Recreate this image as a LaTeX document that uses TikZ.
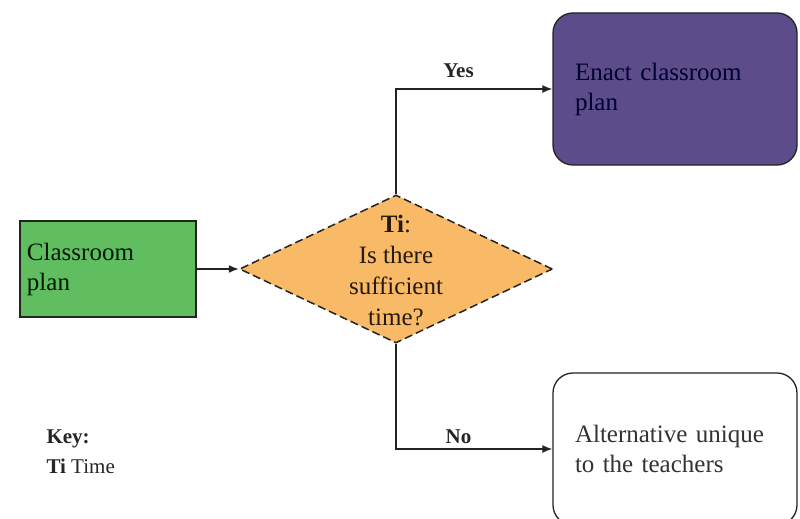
\documentclass[tikz,border=0pt]{standalone}
\usepackage{fontspec}
\setmainfont{Liberation Serif}
\usetikzlibrary{shapes.geometric,arrows.meta}
\definecolor{planGreen}{RGB}{96,190,96}
\definecolor{decOrange}{RGB}{248,186,102}
\definecolor{enactPurple}{RGB}{92,76,137}
\definecolor{edgeGray}{RGB}{35,35,35}
\tikzset{
  boxtext/.style={font=\fontsize{25}{30}\selectfont, align=left},
  labeltext/.style={font=\fontsize{21}{30}\selectfont\bfseries, text=black!85},
  flow/.style={draw=edgeGray, line width=1.4pt, -{Latex[length=10pt,width=8pt]}},
  plainbox/.style={draw=edgeGray, line width=1.3pt, inner xsep=7pt, boxtext},
  roundbox/.style={draw=edgeGray, line width=1.3pt, rounded corners=20pt, boxtext},
}
\begin{document}
\begin{tikzpicture}[x=1pt,y=-1pt]
  \clip (0,0) rectangle (800,519);
  \fill[white] (0,0) rectangle (800,519);

  % start box
  \node[plainbox, fill=planGreen, text=black!75!green!40!black,
        minimum width=176pt, minimum height=96pt, text width=162pt]
        (plan) at (108,269) {Classroom\\plan};

  % decision diamond
  \node[diamond, draw=edgeGray, dashed, dash pattern=on 8pt off 4pt,
        line width=1.5pt, fill=decOrange, minimum width=313pt,
        minimum height=148pt, inner sep=0pt] (ti) at (396,269) {};
  \node[font=\fontsize{25}{31}\selectfont, align=center, text=black!80!brown]
        (titext) at (396,271) {\textbf{Ti}:\\Is there\\sufficient\\time?};

  % outcome boxes
  \node[roundbox, fill=enactPurple, text=black!70!blue!60!black,
        minimum width=244pt, minimum height=152pt, text width=200pt]
        (enact) at (675,89) {Enact classroom\\plan};
  \node[roundbox, fill=white, text=black!80,
        minimum width=244pt, minimum height=152pt, text width=200pt]
        (alt) at (675,449) {Alternative unique\\to the teachers};

  % connectors
  \draw[flow] (plan.east) -- (ti.west);
  \draw[flow] (ti.north) |- node[labeltext, pos=0.7, above=7pt] (yes) {Yes} (enact.west);
  \draw[flow] (ti.south) |- node[labeltext, pos=0.7, above=1pt] (no) {No} (alt.west);

  % key
  \node[font=\fontsize{21}{30}\selectfont, align=left, anchor=west, text=black!85]
        (key) at (43,452) {\textbf{Key:}\\\textbf{Ti} Time};
\end{tikzpicture}
\end{document}
